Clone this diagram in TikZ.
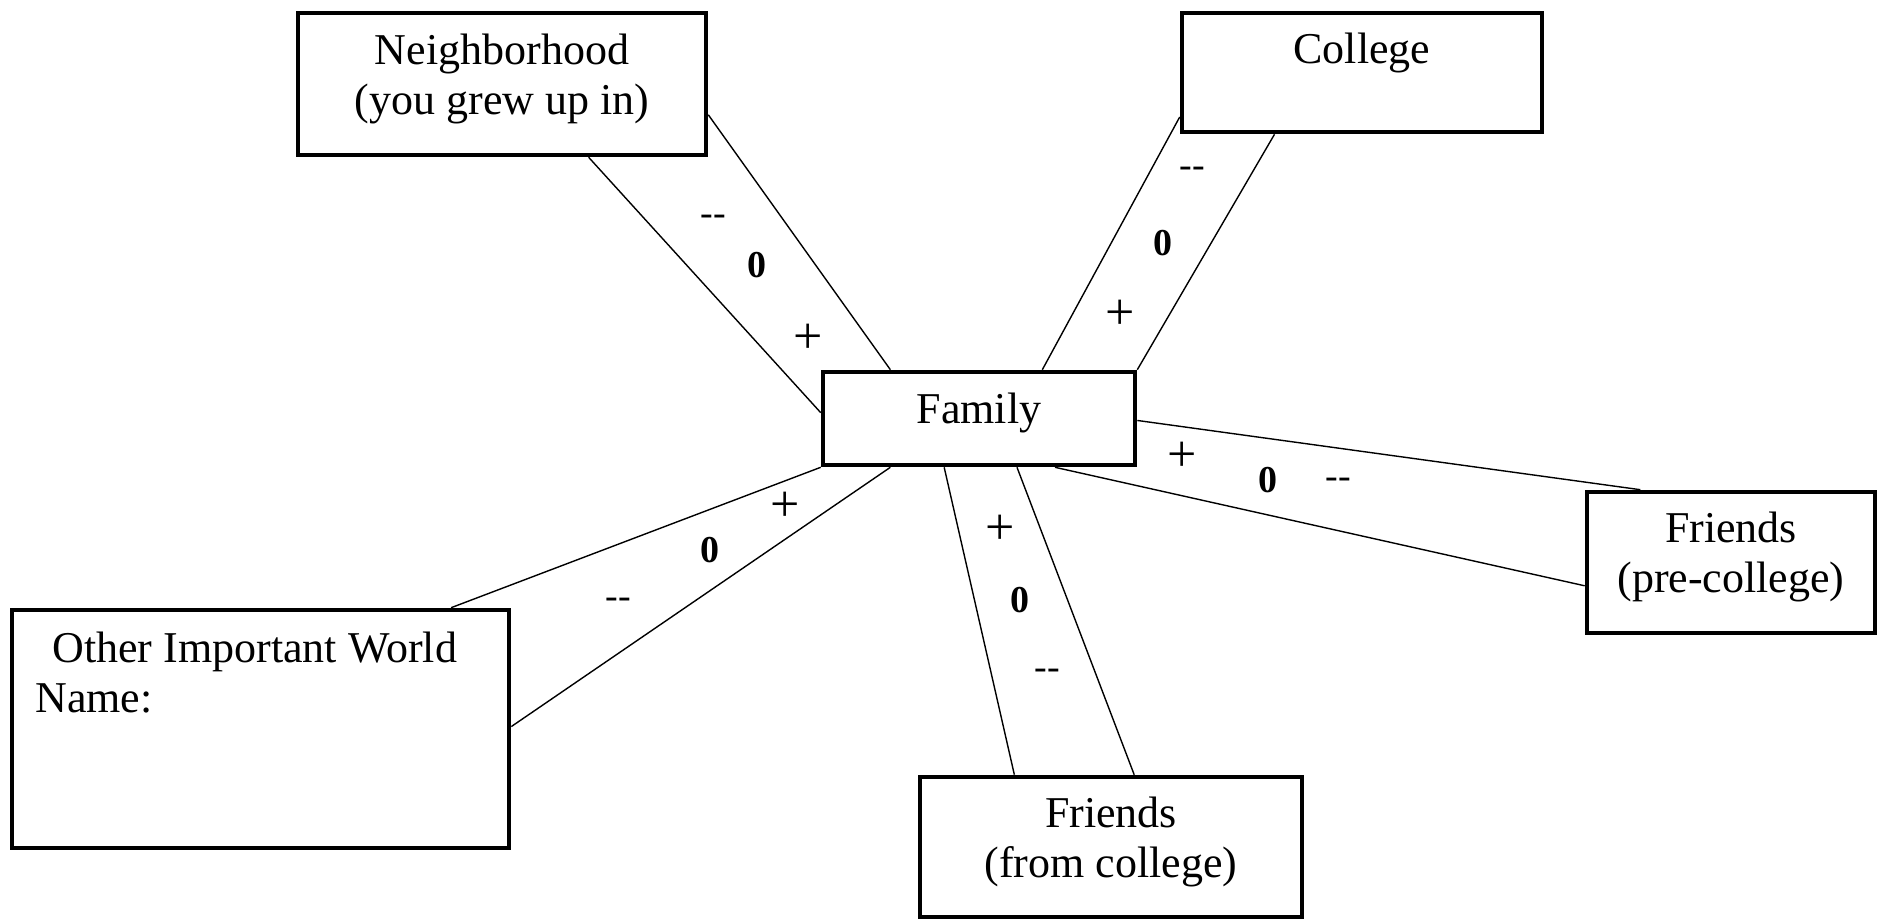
\documentclass[tikz,border=0pt]{standalone}
\usepackage{fontspec}
\setmainfont{Liberation Serif}
\usetikzlibrary{calc}

\tikzset{
  world/.style={draw, line width=2.3pt, inner sep=0pt, align=center, text depth=10pt,
    font=\fontsize{22}{25}\selectfont},
  band/.style={line width=0.7pt},
  sign/.style={inner sep=0pt, font=\fontsize{19}{20}\selectfont},
  signplus/.style={inner sep=0pt, font=\fontsize{26}{28}\selectfont},
}

\begin{document}
\begin{tikzpicture}[x=0.5pt,y=-0.5pt]
\useasboundingbox (0,0) rectangle (1879,920);

\node [world, minimum width=204pt, minimum height=71pt] (nbh) at (502,84) {Neighborhood\\(you grew up in)};
\node [world, minimum width=180pt, minimum height=59.5pt, text depth=24.5pt] (col) at (1362,72.5) {College};
\node [world, minimum width=156pt, minimum height=46.5pt] (fam) at (979,418.5) {Family};
\node [world, minimum width=144pt, minimum height=70.5pt] (pre) at (1731,562.5) {Friends\\(pre-college)};
\node [world, minimum width=191pt, minimum height=70pt] (fcol) at (1111,847) {Friends\\(from college)};
\node [world, minimum width=248.5pt, minimum height=119pt] (oth) at (260.5,729) {};
\node [anchor=north west, align=left, inner sep=0pt, font=\fontsize{22}{25}\selectfont] (othname) at (35,632) {\hspace{8.5pt}Other Important World\\Name:};


\draw [band] ($(nbh.south west)!0.71!(nbh.south east)$) -- ($(fam.north west)!0.44!(fam.south west)$);
\draw [band] ($(nbh.north east)!0.71!(nbh.south east)$) -- ($(fam.north west)!0.22!(fam.north east)$);

\draw [band] ($(col.north west)!0.86!(col.south west)$) -- ($(fam.north west)!0.70!(fam.north east)$);
\draw [band] ($(col.south west)!0.26!(col.south east)$) -- (fam.north east);

\draw [band] ($(fam.north east)!0.52!(fam.south east)$) -- ($(pre.north west)!0.19!(pre.north east)$);
\draw [band] ($(fam.south west)!0.74!(fam.south east)$) -- ($(pre.north west)!0.66!(pre.south west)$);

\draw [band] ($(fam.south west)!0.39!(fam.south east)$) -- ($(fcol.north west)!0.25!(fcol.north east)$);
\draw [band] ($(fam.south west)!0.62!(fam.south east)$) -- ($(fcol.north west)!0.56!(fcol.north east)$);

\draw [band] (fam.south west) -- ($(oth.north west)!0.88!(oth.north east)$);
\draw [band] ($(fam.south west)!0.22!(fam.south east)$) -- ($(oth.north east)!0.49!(oth.south east)$);


\node [sign] (nbhm) at (713,220) {{-}{-}};
\node [sign] (nbhz) at (757,265) {\bfseries 0};
\node [signplus] (nbhp) at (808,339) {+};

\node [sign] (colm) at (1192,172) {{-}{-}};
\node [sign] (colz) at (1163,243) {\bfseries 0};
\node [signplus] (colp) at (1120,315) {+};

\node [signplus] (prep) at (1182,457) {+};
\node [sign] (prez) at (1268,480) {\bfseries 0};
\node [sign] (prem) at (1338,483) {{-}{-}};

\node [signplus] (fcolp) at (1000,530) {+};
\node [sign] (fcolz) at (1020,600) {\bfseries 0};
\node [sign] (fcolm) at (1047,674) {{-}{-}};

\node [signplus] (othp) at (785,507) {+};
\node [sign] (othz) at (710,550) {\bfseries 0};
\node [sign] (othm) at (618,603) {{-}{-}};

\end{tikzpicture}
\end{document}
